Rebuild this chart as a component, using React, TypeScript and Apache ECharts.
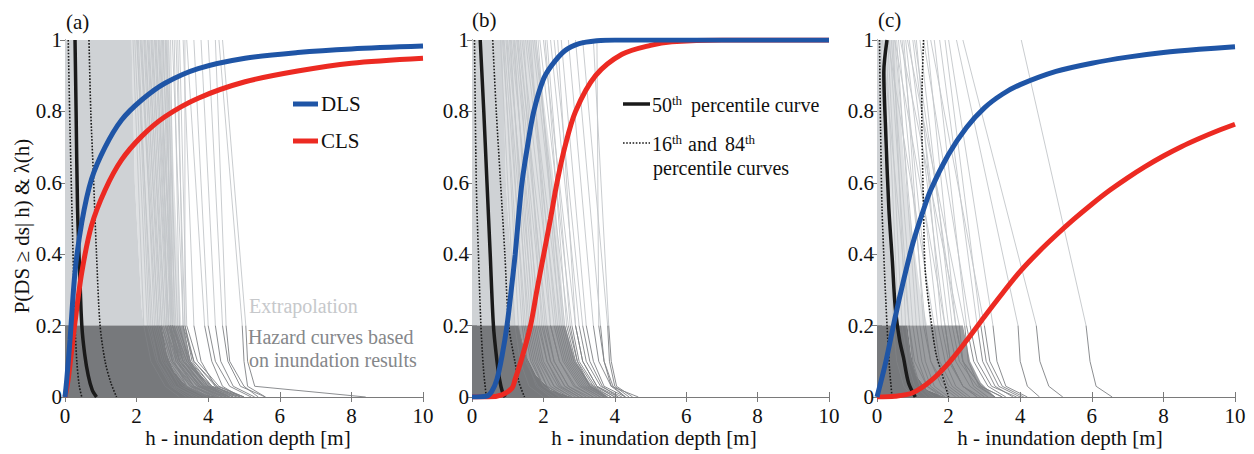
import React, { useEffect, useRef } from "react";
import * as echarts from "echarts";

// ---------- data ----------
const panelLabels = ["(a)", "(b)", "(c)"];
const xTickStep = 2;
const yTickStep = 0.2;

// y levels used by every hazard curve: top, end of extrapolation, knee, tail, zero
const hazardLevels = [1, 0.2, 0.1, 0.03, 0];

// each row: h at the hazardLevels above
const hazardA = [
  [1.9, 2.2, 2.4, 2.8, 3.2],
  [1.95, 2.3, 2.55, 2.95, 3.4],
  [2.0, 2.45, 2.7, 3.1, 3.6],
  [2.02, 2.35, 2.6, 3.05, 3.7],
  [2.05, 2.4, 2.6, 3.0, 3.5],
  [2.1, 2.55, 2.8, 3.2, 3.8],
  [2.12, 2.6, 2.85, 3.35, 4.1],
  [2.15, 2.5, 2.75, 3.3, 4.0],
  [2.2, 2.6, 2.9, 3.4, 3.9],
  [2.22, 2.7, 3.0, 3.55, 4.25],
  [2.25, 2.65, 2.95, 3.5, 4.2],
  [2.3, 2.7, 3.0, 3.6, 4.3],
  [2.32, 2.8, 3.15, 3.7, 4.5],
  [2.35, 2.75, 3.05, 3.4, 4.0],
  [2.4, 2.8, 3.1, 3.7, 4.4],
  [2.42, 2.9, 3.2, 3.75, 4.4],
  [2.45, 2.85, 3.2, 3.8, 4.5],
  [2.5, 2.9, 3.3, 3.9, 4.6],
  [2.52, 3.0, 3.3, 3.85, 4.6],
  [2.55, 2.9, 3.15, 3.6, 4.1],
  [2.6, 2.95, 3.25, 3.75, 4.3],
  [2.62, 3.05, 3.4, 3.95, 4.8],
  [2.65, 3.0, 3.35, 3.85, 4.7],
  [2.7, 2.85, 3.0, 3.5, 4.0],
  [2.72, 3.1, 3.45, 4.05, 4.7],
  [2.75, 2.95, 3.2, 3.8, 4.4],
  [2.8, 3.0, 3.4, 4.0, 4.9],
  [2.82, 3.15, 3.5, 4.1, 4.9],
  [2.85, 2.95, 3.1, 3.6, 4.2],
  [2.9, 3.0, 3.2, 3.9, 4.6],
  [2.95, 3.05, 3.3, 4.1, 5.0],
  [3.0, 3.3, 3.5, 4.0, 4.5],
  [3.05, 3.2, 3.45, 4.0, 4.6],
  [3.1, 3.35, 3.6, 4.2, 4.8],
  [3.15, 3.3, 3.6, 4.25, 5.0],
  [3.2, 3.4, 3.7, 4.3, 5.0],
  [3.3, 3.6, 3.8, 4.2, 4.7],
  [3.35, 3.35, 3.55, 4.1, 4.6],
  [3.4, 3.9, 4.1, 4.4, 4.9],
  [3.6, 4.0, 4.2, 4.6, 5.2],
  [3.8, 4.2, 4.35, 4.7, 5.3],
  [4.0, 4.4, 4.55, 4.9, 5.6],
  [4.2, 4.5, 4.6, 5.0, 5.4],
  [4.3, 4.95, 5.0, 5.1, 5.6],
  [4.4, 5.05, 5.1, 5.3, 8.4],
];

const hazardB = [
  [0.8, 1.2, 1.35, 1.6, 2.0],
  [0.85, 1.4, 1.55, 1.8, 2.2],
  [0.88, 1.3, 1.5, 1.85, 2.3],
  [0.9, 1.5, 1.7, 2.0, 2.5],
  [0.95, 1.6, 1.8, 2.1, 2.6],
  [0.98, 1.45, 1.65, 2.0, 2.45],
  [1.0, 1.75, 1.95, 2.3, 2.8],
  [1.05, 1.65, 1.85, 2.2, 2.7],
  [1.08, 1.55, 1.75, 2.1, 2.6],
  [1.1, 1.9, 2.1, 2.45, 3.0],
  [1.15, 1.8, 2.0, 2.4, 2.9],
  [1.18, 1.7, 1.9, 2.3, 2.8],
  [1.2, 2.0, 2.2, 2.6, 3.1],
  [1.25, 2.1, 2.3, 2.7, 3.2],
  [1.28, 1.85, 2.1, 2.5, 3.0],
  [1.3, 2.2, 2.45, 2.85, 3.4],
  [1.35, 2.05, 2.3, 2.7, 3.3],
  [1.4, 2.3, 2.55, 3.0, 3.5],
  [1.45, 1.95, 2.2, 2.6, 3.1],
  [1.5, 2.4, 2.65, 3.1, 3.6],
  [1.55, 2.5, 2.75, 3.2, 3.7],
  [1.6, 2.35, 2.6, 3.05, 3.6],
  [1.65, 2.2, 2.45, 2.9, 3.4],
  [1.7, 2.6, 2.85, 3.3, 3.8],
  [1.75, 2.7, 2.95, 3.4, 3.9],
  [1.8, 2.55, 2.8, 3.25, 3.75],
  [1.85, 2.45, 2.7, 3.15, 3.7],
  [1.9, 2.8, 3.0, 3.45, 4.0],
  [2.0, 2.9, 3.1, 3.5, 4.1],
  [2.05, 2.65, 2.9, 3.3, 3.9],
  [2.1, 2.75, 2.95, 3.3, 3.8],
  [2.2, 3.0, 3.2, 3.6, 4.2],
  [2.3, 3.1, 3.3, 3.65, 4.1],
  [2.4, 2.9, 3.1, 3.5, 4.0],
  [2.5, 3.2, 3.4, 3.7, 4.3],
  [2.7, 3.4, 3.55, 3.9, 4.66],
  [2.9, 3.6, 3.7, 3.9, 4.3],
  [3.1, 3.8, 3.85, 4.0, 4.4],
  [3.5, 3.55, 3.7, 3.95, 4.3],
  [3.4, 3.83, 3.9, 4.05, 4.5],
];

const hazardC = [
  [0.15, 0.9, 1.05, 1.4, 1.9],
  [0.2, 0.45, 0.55, 0.75, 1.0],
  [0.25, 0.6, 0.7, 0.9, 1.2],
  [0.3, 0.7, 0.85, 1.05, 1.4],
  [0.3, 1.6, 1.75, 2.1, 2.5],
  [0.35, 0.9, 1.0, 1.2, 1.6],
  [0.4, 1.0, 1.15, 1.4, 1.8],
  [0.45, 0.8, 0.95, 1.2, 1.5],
  [0.5, 1.2, 1.35, 1.6, 2.0],
  [0.5, 1.9, 2.05, 2.4, 2.8],
  [0.55, 1.1, 1.25, 1.5, 1.9],
  [0.6, 1.35, 1.5, 1.8, 2.2],
  [0.65, 2.3, 2.4, 2.7, 3.1],
  [0.7, 1.5, 1.7, 2.0, 2.4],
  [0.75, 1.3, 1.5, 1.9, 2.3],
  [0.8, 1.7, 1.9, 2.2, 2.6],
  [0.85, 2.45, 2.55, 2.85, 3.3],
  [0.9, 1.9, 2.05, 2.4, 2.8],
  [1.0, 2.0, 2.2, 2.6, 3.0],
  [1.05, 2.2, 2.4, 2.9, 3.5],
  [1.1, 1.8, 2.0, 2.4, 2.9],
  [1.2, 2.1, 2.3, 2.8, 3.3],
  [1.3, 2.6, 2.8, 3.2, 3.9],
  [1.4, 2.2, 2.4, 2.9, 3.5],
  [1.5, 3.0, 3.15, 3.5, 4.1],
  [1.6, 2.5, 2.7, 3.1, 3.6],
  [1.75, 2.8, 2.95, 3.3, 3.8],
  [1.9, 2.9, 3.05, 3.4, 4.0],
  [2.0, 3.24, 3.35, 3.6, 4.2],
  [2.22, 3.94, 4.0, 4.2, 4.54],
  [2.4, 4.45, 4.55, 4.8, 5.19],
  [4.03, 5.84, 5.95, 6.12, 6.57],
];

// dense envelopes (solid where hundreds of hazard curves overlap)
const denseLightA = [[0, 1], [1.86, 1], [1.95, 0.6], [2.14, 0.25], [2.2, 0.2], [0, 0.2]];
const denseDarkA = [[0, 0.2], [2.7, 0.2], [2.85, 0.12], [3.05, 0.07], [3.4, 0.03], [3.9, 0.008], [4.3, 0], [0, 0]];
const denseLightB = [[0, 1], [0.85, 1], [0.95, 0.6], [1.15, 0.3], [1.2, 0.2], [0, 0.2]];
const denseDarkB = [[0, 0.2], [1.3, 0.2], [1.5, 0.12], [1.8, 0.06], [2.2, 0.02], [2.8, 0], [0, 0]];
const denseLightC = [[0, 1], [0.14, 1], [0.2, 0.7], [0.35, 0.5], [0.45, 0.31], [0.5, 0.2], [0, 0.2]];
const denseDarkC = [[0, 0.2], [0.85, 0.2], [0.95, 0.12], [1.1, 0.06], [1.4, 0.02], [1.9, 0], [0, 0]];

// fringe bands (curves still crowded but with gaps)
const fringeLightA = [[1.86, 1], [2.9, 1], [3.05, 0.6], [3.25, 0.2], [2.2, 0.2], [2.14, 0.25], [1.95, 0.6]];
const fringeDarkA = [[2.7, 0.2], [3.3, 0.2], [3.5, 0.1], [3.9, 0.04], [4.4, 0.01], [4.6, 0], [4.3, 0], [3.9, 0.008], [3.4, 0.03], [3.05, 0.07], [2.85, 0.12]];
const fringeLightB = [[0.85, 1], [1.8, 1], [2.3, 0.6], [2.6, 0.2], [1.2, 0.2], [1.15, 0.3], [0.95, 0.6]];
const fringeDarkB = [[1.3, 0.2], [2.6, 0.2], [2.9, 0.1], [3.3, 0.04], [3.8, 0], [2.8, 0], [2.2, 0.02], [1.8, 0.06], [1.5, 0.12]];
const fringeLightC = [[0.14, 1], [0.5, 1], [0.8, 0.6], [1.2, 0.3], [1.4, 0.2], [0.5, 0.2], [0.45, 0.31], [0.35, 0.5], [0.2, 0.7]];
const fringeDarkC = [[0.85, 0.2], [2.4, 0.2], [2.6, 0.1], [2.9, 0.04], [3.3, 0], [1.9, 0], [1.4, 0.02], [1.1, 0.06], [0.95, 0.12]];

// percentile hazard curves [h, value]
const p50A = [[0.28, 1], [0.31, 0.8], [0.35, 0.53], [0.41, 0.35], [0.47, 0.2], [0.55, 0.12], [0.65, 0.06], [0.76, 0.02], [0.88, 0]];
const p16A = [[0.09, 1], [0.14, 0.75], [0.2, 0.5], [0.25, 0.3], [0.28, 0.2], [0.33, 0.1], [0.4, 0.03], [0.47, 0]];
const p84A = [[0.67, 1], [0.72, 0.8], [0.79, 0.63], [0.88, 0.4], [0.98, 0.2], [1.12, 0.1], [1.28, 0.04], [1.44, 0]];
const p50B = [[0.23, 1], [0.33, 0.8], [0.42, 0.6], [0.51, 0.4], [0.6, 0.2], [0.7, 0.1], [0.77, 0.05], [0.85, 0.015], [0.93, 0]];
const p16B = [[0.07, 1], [0.12, 0.6], [0.18, 0.4], [0.25, 0.2], [0.32, 0.08], [0.4, 0]];
const p84B = [[0.58, 1], [0.68, 0.8], [0.8, 0.6], [0.92, 0.4], [1.03, 0.2], [1.2, 0.1], [1.32, 0.04], [1.47, 0]];
const p50C = [[0.28, 1], [0.19, 0.91], [0.24, 0.75], [0.33, 0.53], [0.43, 0.38], [0.51, 0.25], [0.63, 0.16], [0.74, 0.11], [0.88, 0.04], [1.07, 0]];
const p16C = [[0.07, 1], [0.1, 0.75], [0.14, 0.53], [0.21, 0.35], [0.28, 0.2], [0.35, 0.08], [0.42, 0]];
const p84C = [[1.3, 1], [1.25, 0.81], [1.3, 0.53], [1.35, 0.35], [1.53, 0.2], [1.65, 0.12], [1.81, 0.066], [2.0, 0]];

// fragility curves [h, P]
const dlsA = [[0, 0], [0.05, 0.05], [0.14, 0.16], [0.28, 0.35], [0.47, 0.49], [0.74, 0.61], [1.12, 0.7], [1.58, 0.776], [2.14, 0.832], [2.79, 0.879], [3.72, 0.92], [5.03, 0.949], [6.5, 0.965], [8, 0.975], [10, 0.983]];
const clsA = [[0, 0], [0.09, 0.05], [0.28, 0.21], [0.47, 0.35], [0.74, 0.48], [1.12, 0.58], [1.58, 0.664], [2.14, 0.73], [2.79, 0.785], [3.72, 0.837], [5.03, 0.883], [6.5, 0.913], [8, 0.935], [10, 0.949]];
const dlsB = [[0, 0], [0.4, 0.002], [0.55, 0.015], [0.7, 0.05], [0.85, 0.12], [0.98, 0.2], [1.1, 0.3], [1.21, 0.4], [1.3, 0.5], [1.4, 0.6], [1.55, 0.7], [1.73, 0.8], [2.0, 0.89], [2.24, 0.93], [2.6, 0.97], [3.0, 0.99], [3.5, 0.998], [4, 1], [10, 1]];
const clsB = [[0, 0], [0.45, 0], [0.84, 0.006], [1.12, 0.025], [1.21, 0.05], [1.4, 0.11], [1.64, 0.2], [1.82, 0.3], [2.01, 0.4], [2.2, 0.5], [2.38, 0.6], [2.6, 0.7], [2.9, 0.8], [3.46, 0.9], [4.2, 0.96], [5.0, 0.985], [5.6, 0.995], [7, 1], [10, 1]];
const dlsC = [[0, 0], [0.25, 0.1], [0.5, 0.22], [0.75, 0.33], [1.0, 0.43], [1.25, 0.51], [1.5, 0.58], [2.0, 0.68], [2.5, 0.755], [3.0, 0.81], [3.5, 0.848], [4.0, 0.875], [5.0, 0.912], [6.0, 0.935], [7.0, 0.952], [8.0, 0.965], [9.0, 0.974], [10, 0.981]];
const clsC = [[0, 0], [0.5, 0.002], [1.0, 0.012], [1.5, 0.045], [2.0, 0.095], [2.5, 0.158], [3.0, 0.225], [3.5, 0.29], [4.0, 0.352], [4.5, 0.405], [5.0, 0.453], [5.5, 0.498], [6.0, 0.54], [6.5, 0.579], [7.0, 0.614], [7.5, 0.646], [8.0, 0.675], [8.5, 0.701], [9.0, 0.724], [9.5, 0.745], [10, 0.764]];

// ---------- styling / layout ----------
const FONT = "Liberation Serif";
const grids = [
  { left: 65, top: 40, width: 358, height: 357 },
  { left: 472, top: 40, width: 357, height: 357 },
  { left: 877, top: 40, width: 358, height: 357 },
];
const LIGHT_FILL = "#cfd2d5";
const DARK_FILL = "#77797c";
const LIGHT_FRINGE = "#dfe1e3";
const DARK_FRINGE = "#9b9da0";
const LIGHT_LINE = "#c3c6c9";
const DARK_LINE = "#7f8185";
const BLUE = "#1f55a6";
const RED = "#ec2a22";
const BLACK = "#1a1a1a";
const AXIS = "#7a7a7a";

const panels = [
  { hazard: hazardA, light: denseLightA, dark: denseDarkA, fl: fringeLightA, fd: fringeDarkA, p50: p50A, p16: p16A, p84: p84A, dls: dlsA, cls: clsA },
  { hazard: hazardB, light: denseLightB, dark: denseDarkB, fl: fringeLightB, fd: fringeDarkB, p50: p50B, p16: p16B, p84: p84B, dls: dlsB, cls: clsB },
  { hazard: hazardC, light: denseLightC, dark: denseDarkC, fl: fringeLightC, fd: fringeDarkC, p50: p50C, p16: p16C, p84: p84C, dls: dlsC, cls: clsC },
];

function upperSegments(curves: number[][]) {
  const out: any[] = [];
  curves.forEach((c) => {
    out.push([c[0], hazardLevels[0]], [c[1], hazardLevels[1]], [c[1], "-"]);
  });
  return out;
}
function lowerSegments(curves: number[][]) {
  const out: any[] = [];
  curves.forEach((c) => {
    for (let i = 1; i < hazardLevels.length; i++) out.push([c[i], hazardLevels[i]]);
    out.push([c[c.length - 1], "-"]);
  });
  return out;
}

function polySeries(points: number[][], fill: string, gi: number) {
  return {
    type: "custom",
    xAxisIndex: gi * 2,
    yAxisIndex: gi * 2,
    silent: true,
    clip: true,
    renderItem: (_p: any, api: any) => ({
      type: "polygon",
      shape: { points: points.map((p) => api.coord(p)) },
      style: { fill },
    }),
    data: [[0, 0]],
    z: 1,
  };
}

function lineSeries(data: any[], gi: number, color: string, width: number, extra: any = {}) {
  return {
    type: "line",
    xAxisIndex: gi * 2,
    yAxisIndex: gi * 2,
    data,
    symbol: "none",
    showSymbol: false,
    silent: true,
    connectNulls: false,
    lineStyle: { color, width, ...(extra.lineStyle || {}) },
    smooth: extra.smooth || false,
    z: extra.z || 2,
  };
}

function txt(text: string, x: number, y: number, size: number, fill: string, align = "left", extra: any = {}) {
  return {
    type: "text",
    x,
    y,
    silent: true,
    ...extra,
    style: {
      text,
      fontFamily: FONT,
      fontSize: size,
      fill,
      textAlign: align,
      align,
      textVerticalAlign: "middle",
      verticalAlign: "middle",
    },
  };
}

function buildOption() {
  const xAxis: any[] = [];
  const yAxis: any[] = [];
  const series: any[] = [];
  grids.forEach((_g, gi) => {
    const axisCommon = {
      type: "value",
      gridIndex: gi,
      axisLine: { show: true, lineStyle: { color: AXIS, width: 1 } },
      axisTick: { show: true, inside: true, length: 5, lineStyle: { color: AXIS } },
      splitLine: { show: false },
    };
    xAxis.push({
      ...axisCommon,
      position: "bottom",
      min: 0,
      max: 10,
      interval: xTickStep,
      axisLabel: { show: true, margin: 8, fontFamily: FONT, fontSize: 21, color: "#111" },
    });
    xAxis.push({ ...axisCommon, position: "top", min: 0, max: 10, interval: xTickStep, axisLabel: { show: false } });
    yAxis.push({
      ...axisCommon,
      position: "left",
      min: 0,
      max: 1,
      interval: yTickStep,
      axisLabel: {
        show: true,
        margin: 3,
        fontFamily: FONT,
        fontSize: 21,
        color: "#111",
        formatter: (v: number) => (v === 0 ? "0" : v === 1 ? "1" : v.toFixed(1)),
      },
    });
    yAxis.push({ ...axisCommon, position: "right", min: 0, max: 1, interval: yTickStep, axisLabel: { show: false } });

    const p = panels[gi];
    series.push(polySeries(p.fl, LIGHT_FRINGE, gi));
    series.push(polySeries(p.fd, DARK_FRINGE, gi));
    series.push(polySeries(p.light, LIGHT_FILL, gi));
    series.push(polySeries(p.dark, DARK_FILL, gi));
    series.push(lineSeries(upperSegments(p.hazard), gi, LIGHT_LINE, 0.9));
    series.push(lineSeries(lowerSegments(p.hazard), gi, DARK_LINE, 0.9));
    series.push(lineSeries(p.p16, gi, BLACK, 1.6, { lineStyle: { type: [1.6, 1.6] }, smooth: 0.3, z: 3 }));
    series.push(lineSeries(p.p84, gi, BLACK, 1.6, { lineStyle: { type: [1.6, 1.6] }, smooth: 0.3, z: 3 }));
    series.push(lineSeries(p.p50, gi, BLACK, 3.5, { smooth: 0.3, z: 3 }));
    series.push(lineSeries(p.cls, gi, RED, 5, { smooth: 0.3, z: 4 }));
    series.push(lineSeries(p.dls, gi, BLUE, 5, { smooth: 0.3, z: 4 }));
  });

  const graphic: any[] = [];
  // panel labels
  graphic.push(txt(panelLabels[0], 66, 22, 21, "#111"));
  graphic.push(txt(panelLabels[1], 472, 20, 21, "#111"));
  graphic.push(txt(panelLabels[2], 878, 20, 21, "#111"));
  // axis titles
  graphic.push(txt("P(DS \u2265 ds| h) & \u03bb(h)", 22, 226, 21, "#111", "center", { rotation: Math.PI / 2 }));
  graphic.push(txt("h - inundation depth [m]", 248, 438, 21, "#111", "center"));
  graphic.push(txt("h - inundation depth [m]", 654, 438, 21, "#111", "center"));
  graphic.push(txt("h - inundation depth [m]", 1060, 438, 21, "#111", "center"));
  // panel (a) legend
  graphic.push({ type: "line", silent: true, shape: { x1: 293, y1: 104, x2: 318, y2: 104 }, style: { stroke: BLUE, lineWidth: 5 } });
  graphic.push({ type: "line", silent: true, shape: { x1: 293, y1: 141, x2: 318, y2: 141 }, style: { stroke: RED, lineWidth: 5 } });
  graphic.push(txt("DLS", 321, 104, 21, "#111"));
  graphic.push(txt("CLS", 321, 141, 21, "#111"));
  // panel (a) annotations
  graphic.push(txt("Extrapolation", 249, 306, 20, "#c6c8cb"));
  graphic.push(txt("Hazard curves based", 248, 337, 20, "#85878a"));
  graphic.push(txt("on inundation results", 249, 360, 20, "#85878a"));
  // panel (b) legend
  graphic.push({ type: "line", silent: true, shape: { x1: 623, y1: 104, x2: 650, y2: 104 }, style: { stroke: BLACK, lineWidth: 3.5 } });
  graphic.push({ type: "line", silent: true, shape: { x1: 623, y1: 143, x2: 650, y2: 143 }, style: { stroke: BLACK, lineWidth: 1.6, lineDash: [1.6, 1.6] } });
  graphic.push(txt("50", 652, 105, 20, "#111"));
  graphic.push(txt("th", 672, 100, 13, "#111"));
  graphic.push(txt("percentile curve", 691, 105, 20, "#111"));
  graphic.push(txt("16", 652, 144, 20, "#111"));
  graphic.push(txt("th", 672, 139, 13, "#111"));
  graphic.push(txt("and", 688, 144, 20, "#111"));
  graphic.push(txt("84", 725, 144, 20, "#111"));
  graphic.push(txt("th", 745, 139, 13, "#111"));
  graphic.push(txt("percentile curves", 653, 168, 20, "#111"));

  return {
    animation: false,
    backgroundColor: "#ffffff",
    textStyle: { fontFamily: FONT },
    grid: grids.map((g) => ({ ...g, containLabel: false })),
    xAxis,
    yAxis,
    series,
    graphic,
  };
}

export default function App() {
  const ref = useRef<HTMLDivElement>(null);
  useEffect(() => {
    if (!ref.current) return;
    const chart = echarts.init(ref.current, undefined, { renderer: "svg" });
    chart.setOption(buildOption() as any);
    return () => chart.dispose();
  }, []);
  return (
    <div
      ref={ref}
      style={{ position: "fixed", left: 0, top: 0, width: 1254, height: 454, background: "#fff" }}
    />
  );
}
